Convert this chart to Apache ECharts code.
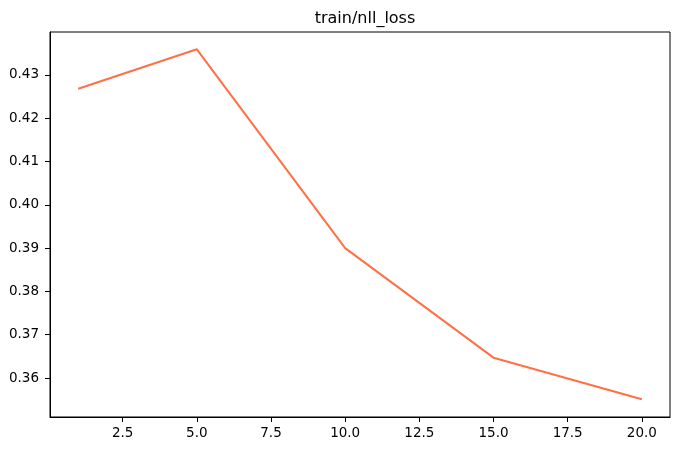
<!DOCTYPE html>
<html>
<head>
<meta charset="utf-8">
<script src="https://cdn.jsdelivr.net/npm/echarts@6/dist/echarts.min.js"></script>
<style>html,body{margin:0;padding:0;background:#fff;}#c{width:680px;height:451px;}</style>
</head>
<body>
<div id="c"></div>
<script>
const steps = [1, 5, 10, 15, 20];
const nllLoss = [0.4268, 0.4359, 0.3900, 0.3647, 0.3551];
const xTicks = [2.5, 5.0, 7.5, 10.0, 12.5, 15.0, 17.5, 20.0];
const yTicks = [0.36, 0.37, 0.38, 0.39, 0.40, 0.41, 0.42, 0.43];
const titleText = 'train/nll_loss';

const font = 'DejaVu Sans';
const chart = echarts.init(document.getElementById('c'), null, {renderer: 'canvas'});
chart.setOption({
  animation: false,
  backgroundColor: '#ffffff',
  title: {
    text: titleText,
    left: 360, top: 6, textAlign: 'center',
    textStyle: {fontFamily: font, fontSize: 16, fontWeight: 'normal', color: '#000'}
  },
  grid: {left: 50, right: 10, top: 32, bottom: 34, show: true, borderColor: '#000', borderWidth: 1, containLabel: false},
  xAxis: {
    type: 'value', min: 0.05, max: 20.95,
    axisLine: {show: true, lineStyle: {color: '#000', width: 1}},
    axisTick: {show: true, length: 5, lineStyle: {color: '#000'}, customValues: xTicks},
    axisLabel: {customValues: xTicks, margin: 9, fontFamily: font, fontSize: 13.5, color: '#000',
      formatter: v => v.toFixed(1)},
    splitLine: {show: false}
  },
  yAxis: {
    type: 'value', min: 0.351, max: 0.4399,
    axisLine: {show: true, lineStyle: {color: '#000', width: 1}},
    axisTick: {show: true, length: 5, lineStyle: {color: '#000'}, customValues: yTicks},
    axisLabel: {customValues: yTicks, margin: 11, fontFamily: font, fontSize: 13.5, color: '#000',
      formatter: v => v.toFixed(2)},
    splitLine: {show: false}
  },
  series: [{
    type: 'line',
    data: steps.map((s, i) => [s, nllLoss[i]]),
    showSymbol: false,
    symbol: 'none',
    lineStyle: {color: '#ff7043', width: 2},
    itemStyle: {color: '#ff7043'}
  }]
});
</script>
</body>
</html>
